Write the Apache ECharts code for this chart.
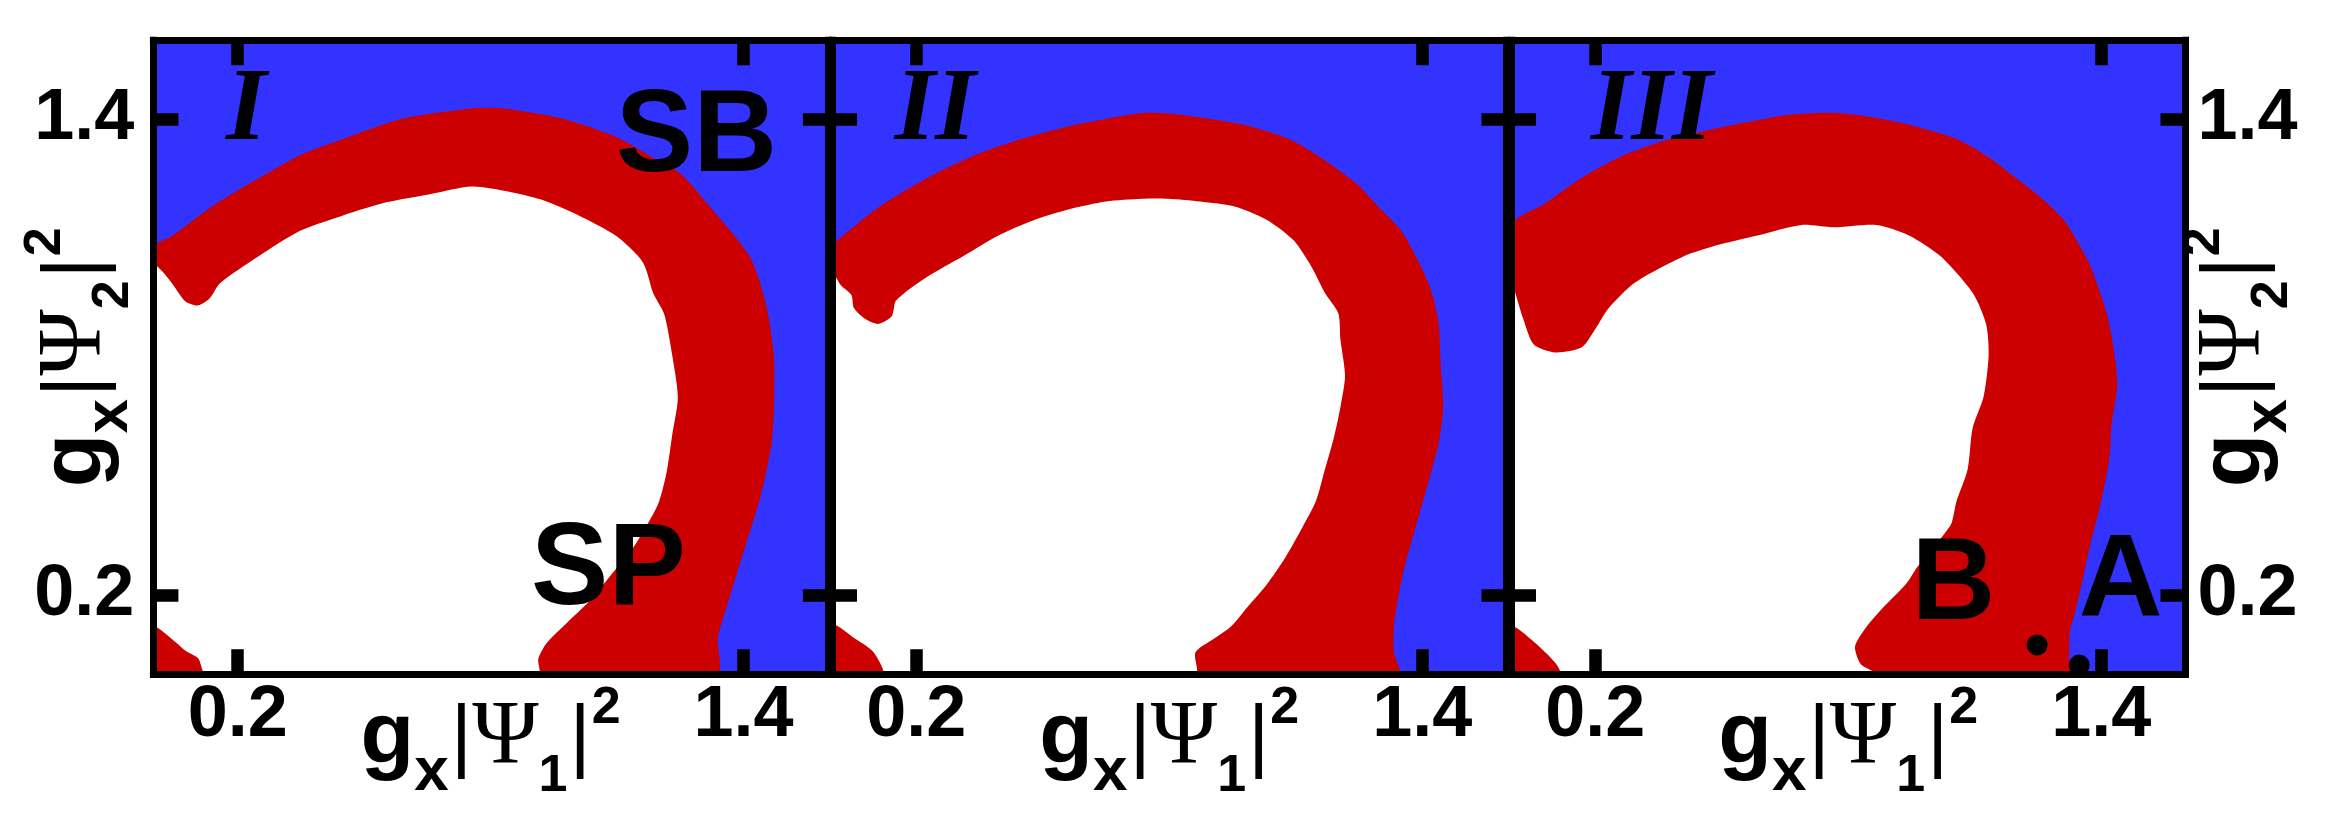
<!DOCTYPE html>
<html><head><meta charset="utf-8">
<script src="https://cdn.jsdelivr.net/npm/echarts@6/dist/echarts.min.js"></script>
<style>html,body{margin:0;padding:0;background:#fff}#c{width:2340px;height:819px}</style>
</head><body><div id="c"></div>
<script>
// ---- data (axis units) ----
const tickValues = [0.2, 1.4];
const tickLabels = ['0.2', '1.4'];

// panel I
const outer1 = [[0,1.075],[0.044,1.106],[0.145,1.185],[0.247,1.250],[0.348,1.310],[0.463,1.356],[0.590,1.402],[0.755,1.428],[0.831,1.428],[0.971,1.402],[1.098,1.356],[1.186,1.303],[1.250,1.264],[1.326,1.172],[1.415,1.053],[1.453,0.935],[1.472,0.803],[1.472,0.671],[1.466,0.579],[1.440,0.448],[1.402,0.316],[1.364,0.184],[1.339,0.092],[1.335,0]];
const inner1 = [[0.913,0],[0.913,0.039],[0.933,0.079],[0.983,0.132],[1.034,0.184],[1.085,0.250],[1.136,0.316],[1.174,0.382],[1.199,0.434],[1.218,0.513],[1.231,0.606],[1.244,0.698],[1.231,0.803],[1.212,0.908],[1.186,0.961],[1.161,1.040],[1.098,1.106],[1.009,1.158],[0.920,1.198],[0.844,1.218],[0.755,1.231],[0.653,1.211],[0.552,1.191],[0.450,1.158],[0.348,1.119],[0.247,1.053],[0.158,0.987],[0.133,0.948],[0.107,0.931],[0.076,0.941],[0.044,0.987],[0.018,1.020],[0,1.035]];
const corner1 = [[0,0],[0,0.120],[0.047,0.086],[0.079,0.057],[0.106,0.040],[0.116,0.011],[0.118,0]];

// panel II
const outer2 = [[0,1.07],[0.057,1.134],[0.131,1.193],[0.237,1.259],[0.343,1.312],[0.449,1.351],[0.565,1.384],[0.661,1.404],[0.745,1.417],[0.820,1.413],[0.925,1.397],[0.989,1.384],[1.084,1.351],[1.158,1.305],[1.243,1.239],[1.296,1.180],[1.349,1.121],[1.391,1.042],[1.423,0.963],[1.439,0.884],[1.444,0.779],[1.450,0.674],[1.439,0.582],[1.423,0.516],[1.402,0.437],[1.381,0.358],[1.360,0.279],[1.344,0.200],[1.333,0.121],[1.333,0.055],[1.344,0]];
const inner2 = [[0.862,0],[0.862,0.055],[0.904,0.088],[0.947,0.121],[0.989,0.174],[1.031,0.226],[1.074,0.292],[1.116,0.371],[1.148,0.437],[1.169,0.516],[1.190,0.595],[1.206,0.674],[1.217,0.753],[1.206,0.845],[1.201,0.911],[1.169,0.963],[1.137,1.029],[1.095,1.095],[1.031,1.147],[0.957,1.180],[0.873,1.193],[0.798,1.200],[0.735,1.200],[0.650,1.193],[0.565,1.174],[0.481,1.147],[0.396,1.108],[0.311,1.055],[0.226,1.003],[0.152,0.943],[0.142,0.904],[0.110,0.884],[0.078,0.897],[0.052,0.924],[0.046,0.957],[0.020,0.983],[0,1.015]];
const corner2 = [[0,0],[0,0.125],[0.057,0.088],[0.099,0.055],[0.121,0]];

// panel III
const outer3 = [[0,1.13],[0.079,1.187],[0.168,1.253],[0.257,1.305],[0.359,1.345],[0.460,1.371],[0.549,1.391],[0.651,1.411],[0.765,1.417],[0.867,1.404],[0.956,1.384],[1.057,1.351],[1.133,1.305],[1.197,1.253],[1.260,1.200],[1.311,1.147],[1.349,1.082],[1.375,1.029],[1.413,0.911],[1.432,0.805],[1.438,0.726],[1.425,0.634],[1.419,0.542],[1.400,0.437],[1.389,0.389],[1.375,0.332],[1.356,0.239],[1.336,0.147],[1.326,0.112],[1.324,0.036],[1.324,0]];
const inner3 = [[0.867,0],[0.830,0.025],[0.816,0.070],[0.840,0.115],[0.880,0.165],[0.939,0.230],[0.962,0.268],[0.981,0.292],[1.029,0.356],[1.045,0.381],[1.057,0.437],[1.083,0.516],[1.095,0.621],[1.121,0.700],[1.133,0.805],[1.127,0.884],[1.095,0.963],[1.019,1.055],[0.943,1.108],[0.867,1.134],[0.765,1.128],[0.689,1.134],[0.587,1.108],[0.486,1.082],[0.410,1.055],[0.295,0.989],[0.232,0.924],[0.200,0.871],[0.168,0.825],[0.105,0.812],[0.054,0.832],[0.029,0.897],[0.010,0.963],[0,1.0]];
const corner3 = [[0,0],[0,0.121],[0.054,0.082],[0.105,0.029],[0.117,0]];

// annotations
const panelNames = ['I', 'II', 'III'];
const panelNamePos = [[0.172, 1.418], [0.149, 1.418], [0.19, 1.418]];
const notes1 = [['SB', 1.097, 1.351], ['SP', 0.896, 0.257]];
const notes3 = [['B', 0.950, 0.220], ['A', 1.347, 0.228]];
const dots3 = [[1.248, 0.074], [1.348, 0.023]];

// ---- style / layout ----
const BLUE = '#3333ff', RED = '#cc0000', WHITE = '#ffffff', BLACK = '#000000';
const sans = 'Liberation Sans', serif = 'Liberation Serif';
const lefts = [153.4, 832, 1511];
const W = 674.5, TOP = 40.3, H = 633.9;

function nameRich() {
  return {
    g:   { fontFamily: sans, fontWeight: 'bold', fontSize: 88, lineHeight: 120, color: BLACK },
    x:   { fontFamily: sans, fontWeight: 'bold', fontSize: 62, lineHeight: 40, padding: [67, 0, 0, 0], color: BLACK },
    bar: { fontFamily: sans, fontSize: 82, lineHeight: 100, padding: [0, 0, 0, 2], color: BLACK },
    psi: { fontFamily: serif, fontSize: 90, lineHeight: 100, color: BLACK },
    sub: { fontFamily: sans, fontWeight: 'bold', fontSize: 52, lineHeight: 40, padding: [74, 0, 0, 0], color: BLACK },
    sup: { fontFamily: sans, fontWeight: 'bold', fontSize: 52, lineHeight: 40, padding: [0, 0, 61, 1], color: BLACK }
  };
}
const xName = '{g|g}{x|x}{bar||}{psi|Ψ}{sub|1}{bar||}{sup|2}';
const yName = '{g|g}{x|x}{bar||}{psi|Ψ}{sub|2}{bar||}{sup|2}';

function axis(gridIndex, position, showLabel, name, nameGap, isY) {
  const a = {
    type: 'value', gridIndex: gridIndex, min: 0, max: 1.6, position: position, z: 10,
    axisLine: { show: true, onZero: false, lineStyle: { color: BLACK, width: 7, cap: 'square' } },
    axisTick: { show: true, inside: true, length: 25, customValues: tickValues, lineStyle: { color: BLACK, width: 12.5 } },
    axisLabel: {
      show: showLabel, customValues: tickValues,
      formatter: v => tickLabels[tickValues.indexOf(Math.round(v * 10) / 10)],
      margin: isY ? (position === 'left' ? 19 : 12) : 6,
      fontFamily: sans, fontWeight: 'bold', fontSize: 72, color: BLACK
    },
    splitLine: { show: false }
  };
  if (name) {
    a.name = name;
    a.nameLocation = 'middle';
    a.nameGap = nameGap;
    a.nameMoveOverlap = false;
    if (isY) a.nameRotate = 90;
    a.nameTextStyle = { rich: nameRich() };
  }
  return a;
}

const grids = [], xAxes = [], yAxes = [];
for (let i = 0; i < 3; i++) {
  grids.push({ left: lefts[i], top: TOP, width: W, height: H, show: true, backgroundColor: BLUE, borderWidth: 0,
    containLabel: false, outerBoundsMode: 'none' });
}
for (let i = 0; i < 3; i++) xAxes.push(axis(i, 'bottom', true, xName, 5, false));
for (let i = 0; i < 3; i++) xAxes.push(axis(i, 'top', false, null, 0, false));
for (let i = 0; i < 3; i++) yAxes.push(axis(i, 'left', i === 0, i === 0 ? yName : null, 17, true));
for (let i = 0; i < 3; i++) yAxes.push(axis(i, 'right', i === 2, i === 2 ? yName : null, -10, true));

function polySeries(i, pts, color, z) {
  return {
    type: 'custom', xAxisIndex: i, yAxisIndex: i, z: z, silent: true,
    data: pts, encode: { x: 0, y: 1 },
    renderItem: function (params, api) {
      if (params.dataIndex !== 0) return null;
      const tl = api.coord([0, 1.6]), br = api.coord([1.6, 0]);
      return {
        type: 'polygon',
        shape: { points: pts.map(p => api.coord(p)), smooth: 0.25, smoothConstraint: [tl, br] },
        style: { fill: color }
      };
    }
  };
}

const series = [];
const outers = [outer1, outer2, outer3], inners = [inner1, inner2, inner3], corners = [corner1, corner2, corner3];
for (let i = 0; i < 3; i++) {
  series.push(polySeries(i, outers[i].concat([[0, 0]]), RED, 2));
  series.push(polySeries(i, inners[i].concat([[0, 0]]), WHITE, 3));
  series.push(polySeries(i, corners[i], RED, 4));
  series.push({
    type: 'scatter', xAxisIndex: i, yAxisIndex: i, symbolSize: 0, z: 6, silent: true,
    itemStyle: { opacity: 1 },
    data: [{ name: panelNames[i], value: panelNamePos[i] }],
    label: { show: true, position: 'right', distance: 0, formatter: '{b}', fontFamily: serif, fontWeight: 'bold', fontStyle: 'italic', fontSize: 104, color: BLACK, opacity: 1 }
  });
}
const noteLabel = { show: true, position: 'right', distance: 0, formatter: '{b}', fontFamily: sans, fontWeight: 'bold', fontSize: 116, color: BLACK, opacity: 1 };
series.push({ type: 'scatter', xAxisIndex: 0, yAxisIndex: 0, symbolSize: 0, z: 6, silent: true, itemStyle: { opacity: 1 },
  data: notes1.map(n => ({ name: n[0], value: [n[1], n[2]] })), label: noteLabel });
series.push({ type: 'scatter', xAxisIndex: 2, yAxisIndex: 2, symbolSize: 0, z: 6, silent: true, itemStyle: { opacity: 1 },
  data: notes3.map(n => ({ name: n[0], value: [n[1], n[2]] })), label: noteLabel });
series.push({ type: 'scatter', xAxisIndex: 2, yAxisIndex: 2, symbolSize: 21, z: 7, silent: true,
  itemStyle: { color: BLACK, opacity: 1 }, data: dots3 });

const chart = echarts.init(document.getElementById('c'), null, { renderer: 'canvas' });
chart.setOption({
  animation: false,
  backgroundColor: '#ffffff',
  grid: grids, xAxis: xAxes, yAxis: yAxes, series: series
});
</script></body></html>
